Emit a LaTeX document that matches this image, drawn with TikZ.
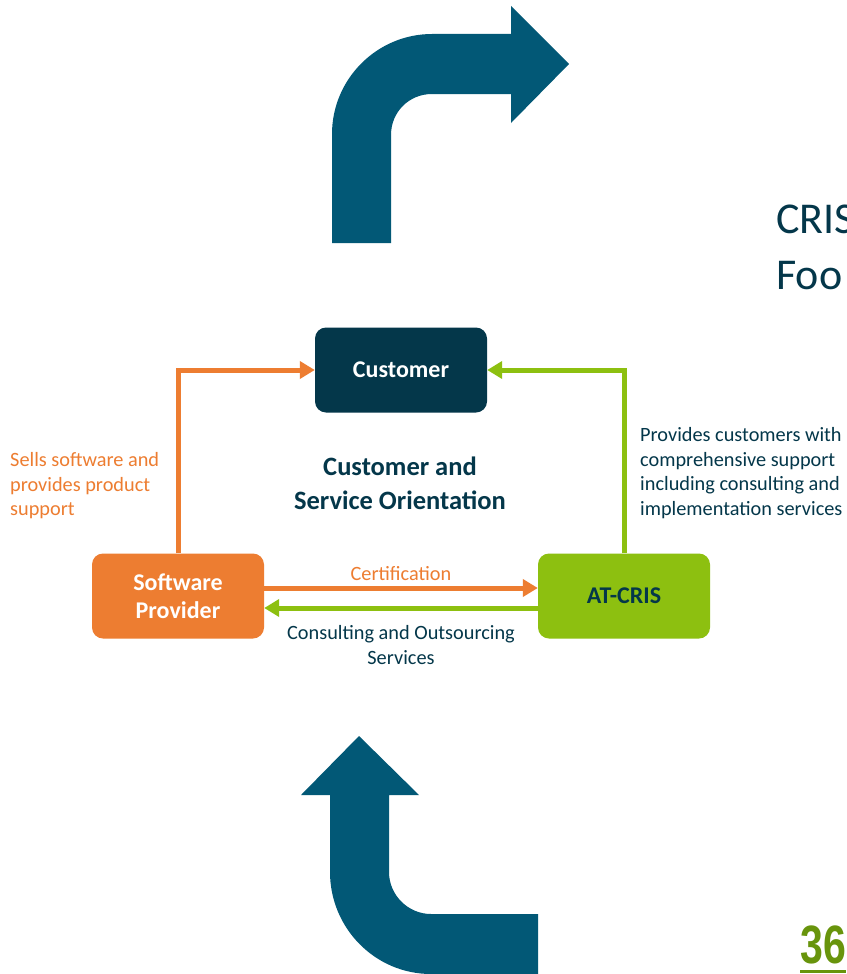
\documentclass[tikz,border=0pt]{standalone}
\usepackage{fontspec}
\setmainfont{Carlito}
\newfontfamily\numfont{Liberation Sans}
\usepackage{tikz}
\usetikzlibrary{arrows.meta,positioning}
\definecolor{navy}{RGB}{4,55,74}
\definecolor{petrol}{RGB}{2,88,118}
\definecolor{orng}{RGB}{237,125,49}
\definecolor{lime}{RGB}{141,192,16}
\definecolor{olive}{RGB}{104,148,12}

\begin{document}
\begin{tikzpicture}[x=1pt,y=-1pt,
    box/.style={rounded corners=11pt,minimum width=172pt,minimum height=85pt,align=center,
      font=\fontsize{24}{28}\selectfont\bfseries},
    oline/.style={orng,line width=5pt,-{Triangle[length=15pt,width=17pt]}},
    gline/.style={lime,line width=5pt,-{Triangle[length=15pt,width=17pt]}},
    lbl/.style={inner sep=0pt,align=left,font=\fontsize{20.3}{24.5}\selectfont}]
  \path[use as bounding box,fill=white] (0,0) rectangle (846,974);
  \begin{scope}
    % turning arrows
    \fill[petrol] (332,243) -- (332,134) .. controls (332,79) and (377,34) .. (432,34)
      -- (511,34) -- (511,6) -- (569,64) -- (511,123) -- (511,94) -- (432,94)
      .. controls (409,94) and (391,112) .. (391,135) -- (391,243) -- cycle;
    \fill[petrol] (359,736) -- (419,795) -- (389,795) -- (389,872)
      .. controls (389,895) and (408,914) .. (431,914) -- (538,914) -- (538,974)
      -- (431,974) .. controls (375,974) and (330,928) .. (330,872)
      -- (330,795) -- (301,795) -- cycle;
    \node[anchor=base west,inner sep=0pt,text=navy,font=\fontsize{44}{56}\selectfont] (cris) at (776,233) {CRIS};
    \node[anchor=base west,inner sep=0pt,text=navy,font=\fontsize{44}{56}\selectfont] (foo) at (776,289) {Foo};
  \end{scope}
  \begin{scope}
    \node[box,fill=navy,text=white] (cust) at (401,370) {Customer};
    \node[box,fill=orng,text=white] (prov) at (178,596) {Software\\Provider};
    \node[box,fill=lime,text=navy] (atcris) at (624,596) {AT-CRIS};
    \draw[oline] (prov.north) |- (cust.west);
    \draw[gline] (atcris.north) |- (cust.east);
    \draw[oline] ([yshift=8pt]prov.east) -- ([yshift=8pt]atcris.west);
    \draw[gline] ([yshift=-12pt]atcris.west) -- ([yshift=-12pt]prov.east);
    \node[lbl,text=orng] (cert) at (401,574) {Certification};
    \node[lbl,text=navy,align=center] (cons) at (401,645) {Consulting and Outsourcing\\Services};
    \node[lbl,text=orng,anchor=west] (sells) at (10,486) {Sells software and\\provides product\\support};
    \node[lbl,text=navy,anchor=west] (provides) at (640,473) {Provides customers with\\comprehensive support\\including consulting and\\implementation services};
    \node[text=navy,align=center,font=\fontsize{26.5}{34}\selectfont\bfseries] (orient) at (400,483) {Customer and\\Service Orientation};
  \end{scope}
  % page number
  \node[anchor=base west,inner sep=0pt,text=olive,font=\fontsize{54}{60}\numfont\bfseries] (pgnum) at (800,963) {\scalebox{0.76}[1]{36}};
  \draw[olive,line width=3pt] (800,971.5) -- (846,971.5);
\end{tikzpicture}
\end{document}
